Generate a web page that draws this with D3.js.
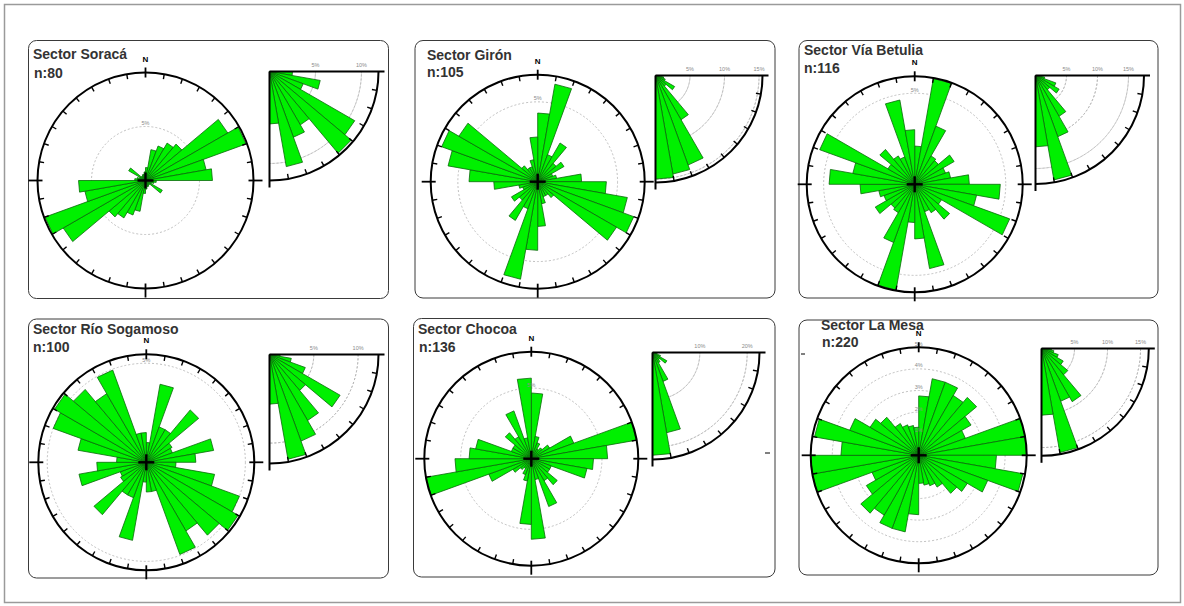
<!DOCTYPE html>
<html>
<head>
<meta charset="utf-8">
<script src="https://cdn.jsdelivr.net/npm/d3@7"></script>
<style>
  html, body { margin: 0; padding: 0; background: #fff; }
  svg { display: block; }
  text { font-family: "Liberation Sans", Arial, sans-serif; }
</style>
</head>
<body>
<svg id="chart" width="1184" height="606"></svg>
<script>
// ---- data -------------------------------------------------------------
const sectorNames = ["Sector Soracá", "Sector Girón", "Sector Vía Betulia",
                     "Sector Río Sogamoso", "Sector Chocoa", "Sector La Mesa"];
const sampleSizes = [80, 105, 116, 100, 136, 220];

// strike frequency (%) per 10° class, 0–180°; the 180–360° half repeats it
const roseSoraca    = [1.2, 2.9, 3.4, 4.0, 4.4, 8.8, 9.9, 5.7, 6.2, 1.0, 0.8, 0.6, 1.8, 0.5, 0.5, 0.6, 0.6, 0.8];
const roseGiron     = [4.3, 6.2, 1.8, 2.8, 1.5, 1.9, 1.0, 1.2, 2.75, 4.3, 5.7, 6.4, 5.7, 1.3, 1.0, 1.0, 1.4, 2.8];
const roseBetulia   = [2.1, 5.9, 3.4, 1.8, 1.7, 2.5, 1.8, 2.0, 3.0, 4.7, 3.45, 5.55, 1.7, 2.5, 1.8, 1.6, 4.7, 3.0];
const roseSogamoso  = [1.0, 4.0, 1.9, 1.9, 3.45, 1.5, 1.4, 3.45, 2.5, 1.5, 3.5, 5.0, 5.35, 4.8, 4.0, 4.95, 1.5, 1.5];
const roseChocoa    = [4.65, 1.6, 1.2, 0.8, 1.0, 1.5, 3.2, 7.55, 5.4, 4.4, 4.0, 1.5, 1.5, 2.4, 1.8, 3.6, 1.5, 5.7];
const roseLaMesa    = [2.75, 3.6, 3.6, 3.2, 3.5, 2.8, 2.3, 5.0, 5.0, 3.6, 4.9, 3.4, 2.6, 2.3, 1.7, 1.5, 1.4, 1.3];

// dip frequency (%) per 10° class, 0–90°
const dipSoraca   = [2.5, 5.6, 3.9, 10.7, 11.6, 6.7, 7.6, 10.5, 5.7];
const dipGiron    = [0.5, 1.2, 1.5, 3.2, 2.0, 7.4, 13.8, 14.5, 15.0];
const dipBetulia  = [0.5, 1.5, 3.5, 4.4, 3.0, 7.6, 10.5, 17.1, 11.5];
const dipSogamoso = [1.2, 2.5, 4.3, 9.2, 5.3, 8.6, 10.4, 12.0, 5.6];
const dipChocoa   = [0.5, 1.0, 1.8, 3.5, 2.0, 2.5, 6.5, 17.2, 21.7];
const dipLaMesa   = [1.5, 1.9, 2.7, 3.8, 5.2, 9.3, 8.5, 16.0, 10.1];

// reference circles and their labels
const roseRingSets = [[5], [5], [5], [5], [5], [1, 2, 3, 4, 5]];
const dipRingSets  = [[5, 10], [5, 10, 15], [5, 10, 15], [5, 10], [10, 20], [5, 10, 15]];

const roseSeries = [roseSoraca, roseGiron, roseBetulia, roseSogamoso, roseChocoa, roseLaMesa];
const dipSeries  = [dipSoraca, dipGiron, dipBetulia, dipSogamoso, dipChocoa, dipLaMesa];

// ---- layout -----------------------------------------------------------
const layout = [
  { box: [28.5, 40.5, 360, 258], title: [33, 59], count: [34, 78],
    rose: { cx: 145.5, cy: 180.5, r: 108, max: 10 },
    dip:  { cx: 269.5, cy: 71.5, r: 109, max: 11.85 } },
  { box: [415, 40.5, 360, 257.5], title: [427, 60], count: [427, 77],
    rose: { cx: 537.7, cy: 181.7, r: 107, max: 6.7 },
    dip:  { cx: 655.5, cy: 75.5, r: 107, max: 15.5 } },
  { box: [799, 40.5, 359, 257.5], title: [804, 55], count: [804, 73],
    rose: { cx: 914.7, cy: 184.3, r: 108, max: 5.93 },
    dip:  { cx: 1035.5, cy: 75.5, r: 108.5, max: 17.5 } },
  { box: [28.5, 319, 360, 259], title: [33, 334], count: [33, 352],
    rose: { cx: 146.3, cy: 462.3, r: 108, max: 5.45 },
    dip:  { cx: 269.5, cy: 354.5, r: 109, max: 12.3 } },
  { box: [413.5, 318.5, 361.5, 258.5], title: [418, 334], count: [419, 352],
    rose: { cx: 531.3, cy: 458.7, r: 107, max: 7.57 },
    dip:  { cx: 652.5, cy: 352.5, r: 107, max: 22.6 } },
  { box: [799, 320, 359, 255], title: [821, 330], count: [822, 347],
    rose: { cx: 918.7, cy: 455.3, r: 108, max: 5.0 },
    dip:  { cx: 1041.5, cy: 348.5, r: 107.3, max: 16.25 } }
];

const GREEN = "#00f000";
const GREEN_EDGE = "#0a6a0a";

const svg = d3.select("#chart");
const toRad = d3.scaleLinear().domain([0, 360]).range([0, 2 * Math.PI]);
const wedge = d3.lineRadial()
  .angle(d => toRad(d[0]))
  .radius(d => d[1])
  .curve(d3.curveLinearClosed);

// outer frame
svg.append("rect")
  .attr("x", 4.5).attr("y", 4.5).attr("width", 1176).attr("height", 598)
  .attr("fill", "none").attr("stroke", "#9a9a9a").attr("stroke-width", 1.5);

layout.forEach((L, i) => {
  const g = svg.append("g");

  // panel box
  g.append("rect")
    .attr("x", L.box[0]).attr("y", L.box[1])
    .attr("width", L.box[2]).attr("height", L.box[3])
    .attr("rx", 8).attr("ry", 8)
    .attr("fill", "#fff").attr("stroke", "#3a3a3a").attr("stroke-width", 1);

  g.append("text").attr("x", L.title[0]).attr("y", L.title[1])
    .attr("font-size", 14).attr("font-weight", "bold").attr("fill", "#333")
    .text(sectorNames[i]);
  g.append("text").attr("x", L.count[0]).attr("y", L.count[1])
    .attr("font-size", 14).attr("font-weight", "bold").attr("fill", "#333")
    .text("n:" + sampleSizes[i]);

  // ---------- rose of strikes ----------
  const R = L.rose;
  const rs = d3.scaleLinear().domain([0, R.max]).range([0, R.r]);
  const rg = g.append("g").attr("transform", `translate(${R.cx},${R.cy})`);

  roseRingSets[i].forEach(v => {
    if (rs(v) < R.r - 1) {
      rg.append("circle").attr("r", rs(v))
        .attr("fill", "none").attr("stroke", "#b0b0b0")
        .attr("stroke-width", 0.8).attr("stroke-dasharray", "2,2");
    }
  });

  const bins = d3.range(36).map(k => ({ a0: k * 10, a1: k * 10 + 10, v: roseSeries[i][k % 18] }));
  rg.selectAll("path.bar").data(bins).join("path")
    .attr("class", "bar")
    .attr("d", d => wedge([[d.a0, 0], [d.a0, rs(d.v)], [d.a1, rs(d.v)]]))
    .attr("fill", GREEN).attr("stroke", GREEN_EDGE).attr("stroke-width", 0.8)
    .attr("stroke-linejoin", "miter");

  roseRingSets[i].forEach(v => {
    rg.append("text").attr("x", 0).attr("y", -rs(v) - 1.5)
      .attr("text-anchor", "middle").attr("font-size", 5.5).attr("fill", "#8a8a8a")
      .text(v + "%");
  });

  // compass circle
  rg.append("circle").attr("r", R.r)
    .attr("fill", "none").attr("stroke", "#000").attr("stroke-width", 2);

  d3.range(0, 360, 10).forEach(a => {
    const t = toRad(a);
    const sx = Math.sin(t), sy = -Math.cos(t);
    let r0 = R.r - 5, r1 = R.r;
    let w = 1.4;
    if (a % 90 === 0) {
      r0 = R.r - 5; r1 = (a === 0) ? R.r + 5 : R.r + 9; w = 1.8;
    }
    rg.append("line")
      .attr("x1", sx * r0).attr("y1", sy * r0)
      .attr("x2", sx * r1).attr("y2", sy * r1)
      .attr("stroke", "#000").attr("stroke-width", w);
  });

  rg.append("text").attr("x", 0).attr("y", -R.r - 11)
    .attr("text-anchor", "middle").attr("font-size", 8).attr("font-weight", "bold")
    .attr("fill", "#000").text("N");

  // centre cross
  rg.append("line").attr("x1", -8).attr("x2", 8).attr("y1", 0).attr("y2", 0)
    .attr("stroke", "#000").attr("stroke-width", 2.4);
  rg.append("line").attr("y1", -8).attr("y2", 8).attr("x1", 0).attr("x2", 0)
    .attr("stroke", "#000").attr("stroke-width", 2.4);

  // ---------- dip quadrant ----------
  const D = L.dip;
  const ds = d3.scaleLinear().domain([0, D.max]).range([0, D.r]);
  const dg = g.append("g").attr("transform", `translate(${D.cx},${D.cy})`);
  const dipAngle = d => 90 + d; // 0° dip along the top edge, 90° straight down

  const quarterArc = d3.arc()
    .innerRadius(0).startAngle(toRad(90)).endAngle(toRad(180));

  dipRingSets[i].forEach(v => {
    dg.append("path")
      .attr("d", d3.arc().innerRadius(ds(v)).outerRadius(ds(v))
        .startAngle(toRad(90)).endAngle(toRad(180))())
      .attr("fill", "none").attr("stroke", "#b0b0b0")
      .attr("stroke-width", 0.8).attr("stroke-dasharray", "2,2");
  });

  const dbins = dipSeries[i].map((v, k) => ({ d0: k * 10, d1: k * 10 + 10, v }));
  dg.selectAll("path.dbar").data(dbins).join("path")
    .attr("class", "dbar")
    .attr("d", d => wedge([[dipAngle(d.d0), 0], [dipAngle(d.d0), ds(d.v)], [dipAngle(d.d1), ds(d.v)]]))
    .attr("fill", GREEN).attr("stroke", GREEN_EDGE).attr("stroke-width", 0.8);

  dipRingSets[i].forEach(v => {
    dg.append("text").attr("x", ds(v)).attr("y", -5)
      .attr("text-anchor", "middle").attr("font-size", 5.5).attr("fill", "#8a8a8a")
      .text(v + "%");
  });

  dg.append("path")
    .attr("d", d3.arc().innerRadius(D.r).outerRadius(D.r)
      .startAngle(toRad(90)).endAngle(toRad(180))())
    .attr("fill", "none").attr("stroke", "#000").attr("stroke-width", 2);

  d3.range(10, 90, 10).forEach(a => {
    const t = toRad(dipAngle(a));
    const sx = Math.sin(t), sy = -Math.cos(t);
    dg.append("line")
      .attr("x1", sx * (D.r - 5)).attr("y1", sy * (D.r - 5))
      .attr("x2", sx * D.r).attr("y2", sy * D.r)
      .attr("stroke", "#000").attr("stroke-width", 1.4);
  });

  dg.append("line").attr("x1", 0).attr("y1", 0).attr("x2", D.r + 6).attr("y2", 0)
    .attr("stroke", "#000").attr("stroke-width", 2);
  dg.append("line").attr("x1", 0).attr("y1", 0).attr("x2", 0).attr("y2", D.r + 7)
    .attr("stroke", "#000").attr("stroke-width", 2);
});

// small stray tick marks
svg.append("line").attr("x1", 765).attr("x2", 770).attr("y1", 453).attr("y2", 453)
  .attr("stroke", "#000").attr("stroke-width", 1);
svg.append("line").attr("x1", 801).attr("x2", 805).attr("y1", 354).attr("y2", 354)
  .attr("stroke", "#000").attr("stroke-width", 1);
</script>
</body>
</html>
